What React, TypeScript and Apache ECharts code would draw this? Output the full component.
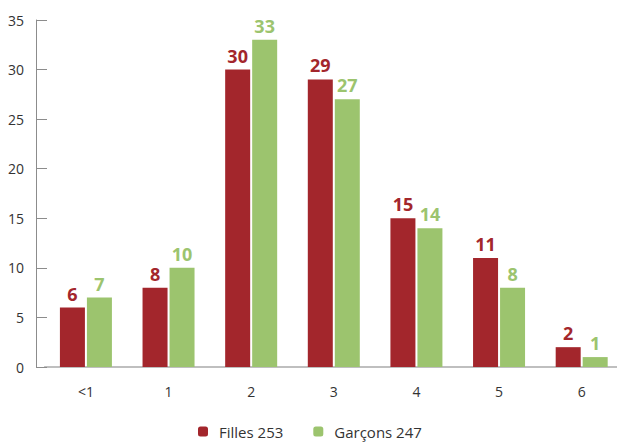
import React, { useEffect, useRef } from "react";
import * as echarts from "echarts";

const categories = ["<1", "1", "2", "3", "4", "5", "6"];
const filles = [6, 8, 30, 29, 15, 11, 2];
const garcons = [7, 10, 33, 27, 14, 8, 1];
const seriesNames = ["Filles 253", "Garçons 247"];
const yTicks = { min: 0, max: 35, interval: 5 };

const RED = "#A3262C";
const GREEN = "#9CC46E";
const FONT = "'Open Sans', 'Noto Sans', sans-serif";

export default function App() {
  const ref = useRef<HTMLDivElement>(null);
  useEffect(() => {
    if (!ref.current) return;
    const chart = echarts.init(ref.current, null, { renderer: "svg" });
    const labelFor = (color: string) => ({
      show: true,
      position: "top" as const,
      distance: 5,
      color,
      fontFamily: FONT,
      fontWeight: "bold" as const,
      fontSize: 18,
    });
    chart.setOption({
      animation: false,
      textStyle: { fontFamily: FONT },
      grid: { left: 44.6, right: 0, top: 20, bottom: 79, containLabel: false },
      legend: {
        bottom: 2,
        left: 193,
        itemWidth: 10,
        itemHeight: 10,
        itemGap: 30,
        icon: "roundRect",
        textStyle: { fontFamily: FONT, fontSize: 15, color: "#333", padding: [0, 0, 0, 6] },
        data: seriesNames,
      },
      xAxis: {
        type: "category",
        data: categories,
        axisTick: { show: false },
        axisLine: { lineStyle: { color: "#aaaaaa", width: 1.5 } },
        axisLabel: { color: "#333", fontSize: 14, margin: 17, fontFamily: FONT },
      },
      yAxis: {
        type: "value",
        min: yTicks.min,
        max: yTicks.max,
        interval: yTicks.interval,
        offset: 8.6,
        splitLine: { show: false },
        axisLine: { show: true, lineStyle: { color: "#8c8c8c", width: 1 } },
        axisTick: { show: true, inside: true, length: 11, lineStyle: { color: "#8c8c8c" } },
        axisLabel: { color: "#333", fontSize: 14, margin: 12, fontFamily: FONT },
      },
      series: [
        {
          name: seriesNames[0],
          type: "bar",
          data: filles,
          barWidth: 25,
          barGap: "8%",
          itemStyle: { color: RED },
          label: labelFor(RED),
        },
        {
          name: seriesNames[1],
          type: "bar",
          data: garcons,
          barWidth: 25,
          barGap: "8%",
          itemStyle: { color: GREEN },
          label: labelFor(GREEN),
        },
      ],
    });
    return () => chart.dispose();
  }, []);
  return (
    <div style={{ width: 617, height: 446, position: "absolute", left: 0, top: 0, overflow: "hidden" }}>
      <div ref={ref} style={{ width: 623, height: 446 }} />
    </div>
  );
}
